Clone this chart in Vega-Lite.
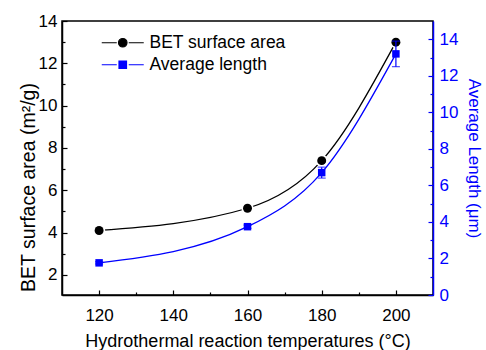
{
  "$schema": "https://vega.github.io/schema/vega-lite/v6.json",
  "width": 371,
  "height": 274,
  "autosize": {"type": "none"},
  "padding": {"left": 62, "top": 21, "right": 53, "bottom": 55},
  "background": "white",
  "config": {
    "font": "Liberation Sans",
    "view": {"stroke": "black", "strokeWidth": 1.5},
    "axis": {"labelFontSize": 17, "titleFontSize": 17, "titleFontWeight": "normal", "grid": false, "domainWidth": 1.5, "tickWidth": 1.2, "labelFont": "Liberation Sans", "titleFont": "Liberation Sans"}
  },
  "data": {
    "values": [
      {"temp": 120, "series": "BET surface area", "value": 4.1, "lo": null, "hi": null},
      {"temp": 160, "series": "BET surface area", "value": 5.15, "lo": null, "hi": null},
      {"temp": 180, "series": "BET surface area", "value": 7.4, "lo": null, "hi": null},
      {"temp": 200, "series": "BET surface area", "value": 13.0, "lo": null, "hi": null},
      {"temp": 120, "series": "Average length", "value": 1.76, "lo": 1.7, "hi": 1.82},
      {"temp": 160, "series": "Average length", "value": 3.74, "lo": 3.65, "hi": 3.83},
      {"temp": 180, "series": "Average length", "value": 6.7, "lo": 6.4, "hi": 7.0},
      {"temp": 200, "series": "Average length", "value": 13.2, "lo": 12.5, "hi": 13.9}
    ]
  },
  "encoding": {
    "x": {
      "field": "temp", "type": "quantitative",
      "scale": {"domain": [110, 210], "nice": false, "zero": false},
      "axis": {
        "title": "Hydrothermal reaction temperatures (°C)",
        "values": [120, 130, 140, 150, 160, 170, 180, 190, 200],
        "labelExpr": "datum.value % 20 === 0 ? datum.label : ''",
        "tickSize": {"condition": {"test": "datum.value % 20 !== 0", "value": -3}, "value": -5},
        "labelPadding": 17,
        "titlePadding": 9,
        "titleFontSize": 18,
        "domainColor": "black", "tickColor": "black", "labelColor": "black", "titleColor": "black"
      }
    }
  },
  "layer": [
    {
      "transform": [{"filter": "datum.series === 'BET surface area'"}],
      "encoding": {
        "y": {
          "field": "value", "type": "quantitative",
          "scale": {"domain": [1.05, 14], "nice": false, "zero": false},
          "axis": {
            "title": "BET surface area (m²/g)",
            "orient": "left",
            "values": [2, 3, 4, 5, 6, 7, 8, 9, 10, 11, 12, 13, 14],
            "labelExpr": "datum.value % 2 === 0 ? datum.label : ''",
            "tickSize": {"condition": {"test": "datum.value % 2 !== 0", "value": -3}, "value": -5},
            "labelPadding": 10,
            "titleFontSize": 19.5,
            "titleX": -24,
            "titleY": 166,
            "domainColor": "black", "tickColor": "black", "labelColor": "black", "titleColor": "black"
          }
        },
        "color": {
          "field": "series", "type": "nominal",
          "scale": {"domain": ["BET surface area", "Average length"], "range": ["black", "#0000ff"]},
          "legend": {
            "orient": "none", "title": null,
            "offset": 0, "padding": 0,
            "legendX": 52, "legendY": 13,
            "labelFontSize": 17.5, "labelFont": "Liberation Sans", "labelColor": "black",
            "symbolSize": 100, "labelOffset": 18, "rowPadding": 3, "symbolStrokeWidth": 1.2,
            "encode": {
              "symbols": {
                "update": {
                  "shape": {"signal": "datum.value === 'BET surface area' ? 'M-4.2,0L-1.2,0M1.2,0L4.2,0M-0.85,0A0.85,0.85 0 1,0 0.85,0A0.85,0.85 0 1,0 -0.85,0Z' : 'M-4.2,0L-1.2,0M1.2,0L4.2,0M-0.75,-0.75L0.75,-0.75L0.75,0.75L-0.75,0.75Z'"},
                  "fill": {"signal": "datum.value === 'BET surface area' ? 'black' : '#0000ff'"},
                  "stroke": {"signal": "datum.value === 'BET surface area' ? 'black' : '#0000ff'"},
                  "strokeWidth": {"value": 1.2}
                }
              }
            }
          }
        }
      },
      "layer": [
        {"mark": {"type": "line", "interpolate": "monotone", "strokeWidth": 1.3}},
        {"mark": {"type": "point", "shape": "circle", "filled": true, "size": 85, "opacity": 1, "color": "black", "stroke": "white", "strokeWidth": 3, "strokeOpacity": 1}},
        {"mark": {"type": "point", "shape": "circle", "filled": true, "size": 80, "opacity": 1, "color": "black"}}
      ]
    },
    {
      "transform": [{"filter": "datum.series === 'Average length'"}],
      "encoding": {
        "y": {
          "field": "value", "type": "quantitative",
          "scale": {"domain": [0, 15], "nice": false, "zero": false},
          "axis": {
            "title": "Average Length (μm)",
            "orient": "right",
            "values": [0, 1, 2, 3, 4, 5, 6, 7, 8, 9, 10, 11, 12, 13, 14],
            "labelExpr": "datum.value % 2 === 0 ? datum.label : ''",
            "tickSize": {"condition": {"test": "datum.value % 2 !== 0", "value": -3}, "value": -5},
            "labelPadding": 11,
            "titlePadding": 7,
            "domainColor": "#0000ff", "tickColor": "#0000ff", "labelColor": "#0000ff", "titleColor": "#0000ff"
          }
        }
      },
      "layer": [
        {"mark": {"type": "line", "interpolate": "monotone", "strokeWidth": 1.3},
         "encoding": {"color": {"field": "series", "type": "nominal"}}},
        {"mark": {"type": "rule", "color": "#0000ff", "strokeWidth": 1.2},
         "encoding": {"y": {"field": "lo", "type": "quantitative", "title": "Average Length (μm)"}, "y2": {"field": "hi"}}},
        {"mark": {"type": "tick", "color": "#0000ff", "size": 8, "thickness": 1.2, "orient": "horizontal"},
         "encoding": {"y": {"field": "lo", "type": "quantitative", "title": "Average Length (μm)"}}},
        {"mark": {"type": "tick", "color": "#0000ff", "size": 8, "thickness": 1.2, "orient": "horizontal"},
         "encoding": {"y": {"field": "hi", "type": "quantitative", "title": "Average Length (μm)"}}},
        {"mark": {"type": "square", "filled": true, "size": 56, "opacity": 1, "color": "#0000ff"}}
      ]
    }
  ],
  "resolve": {"scale": {"y": "independent"}}
}
